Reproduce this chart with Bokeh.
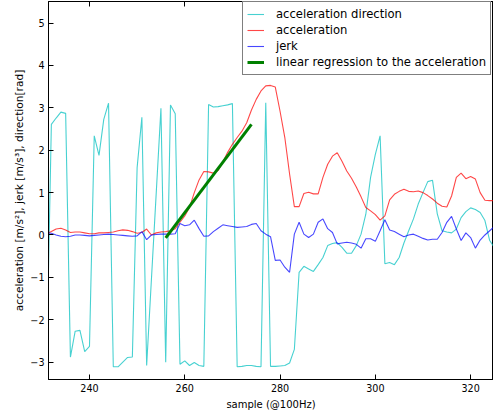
from bokeh.plotting import figure
from bokeh.models import (LinearAxis, FixedTicker, Legend, LegendItem, Range1d,
                          CustomJSTickFormatter)
from bokeh.embed import file_html
from bokeh.resources import INLINE

samples = list(range(231, 326))

direction = [
    -3.1, 2.61, 2.76, 2.9, 2.87, -2.88, -2.27, -2.25, -2.75, -2.63,
    2.34, 1.88, 2.73, 3.11, -3.11, -3.11, -3.0, -2.89, -2.88, 1.59,
    2.78, -3.08, -1.05, 0.97, 2.99, -3.0, 3.07, 2.86, -3.05, -2.97,
    -3.08, -3.01, -3.08, -3.1, 3.08, 3.02, 3.03, 3.05, 3.07, 3.1,
    -3.11, -3.1, -3.08, -3.08, -3.1, -3.11, 3.12, -3.1, -3.1, -3.09,
    -3.08, -3.02, -2.7, -0.88, -0.74, -0.8, -0.86, -0.7, -0.53, -0.25,
    -0.2, -0.18, -0.29, -0.43, -0.43, -0.25, 0.02, 0.49, 1.36, 1.9,
    2.34, -0.68, -0.65, -0.7, -0.53, -0.19, 0.1, 0.38, 0.73, 1.0,
    1.26, 1.29, 0.5, 0.1, 0.07, 0.05, 0.14, 0.41, 0.55, 0.64,
    0.6, 0.53, 0.34, -0.13, -0.3,
]

acceleration = [
    0.03, 0.08, 0.14, 0.16, 0.12, 0.06, 0.07, 0.07, 0.05, 0.03,
    0.03, 0.05, 0.05, 0.06, 0.07, 0.1, 0.12, 0.11, 0.08, 0.04,
    0.06, 0.14, 0.0, 0.05, 0.07, 0.08, 0.1, 0.15, 0.3, 0.45,
    0.65, 1.0, 1.3, 1.5, 1.49, 1.46, 1.52, 1.72, 1.95, 2.14,
    2.3, 2.45, 2.65, 2.95, 3.2, 3.4, 3.52, 3.53, 3.49, 2.92,
    2.3, 1.44, 0.67, 0.67, 0.98, 1.01, 0.97, 0.97, 1.36, 1.67,
    1.86, 1.94, 1.74, 1.51, 1.34, 1.13, 0.9, 0.65, 0.57, 0.48,
    0.35, 0.45, 0.83, 0.96, 1.03, 1.08, 1.03, 1.02, 1.04, 1.0,
    0.93, 0.85, 0.75, 0.68, 0.66, 0.92, 1.36, 1.46, 1.33, 1.38,
    1.32, 1.0, 0.82, 0.81, 0.81,
]

jerk = [
    0.05, 0.04, 0.0, -0.03, -0.04, -0.03, 0.0, 0.0, -0.01, -0.02,
    -0.01, 0.0, 0.01, 0.02, 0.01, 0.0, -0.01, -0.02, -0.03, -0.02,
    0.08, -0.11, 0.0, 0.01, 0.02, 0.02, 0.02, 0.03, 0.27, 0.22,
    0.24, 0.35, 0.15, -0.03, -0.02, 0.08, 0.16, 0.24, 0.22, 0.2,
    0.18, 0.19, 0.2, 0.25, 0.27, 0.1, 0.02, -0.04, -0.6, -0.59,
    -0.76, -0.88, 0.02, 0.3, 0.02, -0.06, 0.02, 0.3, 0.38, 0.15,
    0.06, -0.21, -0.19, -0.17, -0.19, -0.22, -0.31, -0.09, -0.09, -0.15,
    0.1, 0.36, 0.12, 0.08, 0.02, -0.04, 0.0, 0.02, -0.03, -0.08,
    -0.12, -0.1, -0.1, 0.06, 0.3, 0.44, 0.14, -0.13, 0.05, -0.06,
    -0.31, -0.12, 0.0, 0.1, 0.2,
]

reg_x = [256, 274]
reg_y = [-0.07, 2.61]

x_ticks = [240, 260, 280, 300, 320]
y_ticks = [-3, -2, -1, 0, 1, 2, 3, 4, 5]

FONT = "DejaVu Sans"

p = figure(width=493, height=414, output_backend="svg", toolbar_location=None,
           x_range=Range1d(231.4, 324.8), y_range=Range1d(-3.41, 5.51),
           min_border_left=48, min_border_right=0, min_border_top=1,
           min_border_bottom=35)
p.background_fill_color = "white"
p.border_fill_color = "white"
p.outline_line_color = "black"
p.outline_line_width = 1
p.xgrid.visible = False
p.ygrid.visible = False

for ax, ticks in ((p.xaxis[0], x_ticks), (p.yaxis[0], y_ticks)):
    ax.ticker = FixedTicker(ticks=ticks)
    ax.major_tick_in = 5
    ax.major_tick_out = 0
    ax.minor_tick_in = 0
    ax.minor_tick_out = 0
    ax.axis_line_color = "black"
    ax.major_tick_line_color = "black"
    ax.major_label_text_font = FONT
    ax.major_label_text_font_size = "9.6px"
    ax.major_label_text_color = "black"
    ax.axis_label_text_font = FONT
    ax.axis_label_text_font_size = "10px"
    ax.axis_label_text_font_style = "normal"
    ax.axis_label_text_color = "black"

p.xaxis[0].axis_label = "sample (@100Hz)"
p.xaxis[0].major_label_standoff = 4
p.xaxis[0].axis_label_standoff = 4
p.yaxis[0].axis_label = "acceleration [m/s²], jerk [m/s³], direction[rad]"
p.yaxis[0].axis_label_text_font_size = "10.6px"
p.yaxis[0].major_label_standoff = 4
p.yaxis[0].axis_label_standoff = 2

top = LinearAxis(ticker=FixedTicker(ticks=x_ticks),
                 formatter=CustomJSTickFormatter(code="return ''"),
                 major_tick_in=5, major_tick_out=0, minor_tick_in=0, minor_tick_out=0,
                 major_label_standoff=0, axis_line_color="black",
                 major_label_text_font_size="1px")
p.add_layout(top, "above")

r_dir = p.line(samples, direction, line_color="#00BFBF", line_alpha=0.72, line_width=1.1)
r_acc = p.line(samples, acceleration, line_color="#FF0000", line_alpha=0.72, line_width=1.1)
r_jerk = p.line(samples, jerk, line_color="#0000FF", line_alpha=0.72, line_width=1.1)
r_reg = p.line(reg_x, reg_y, line_color="#008000", line_width=3)

legend = Legend(items=[
    LegendItem(label="acceleration direction", renderers=[r_dir]),
    LegendItem(label="acceleration", renderers=[r_acc]),
    LegendItem(label="jerk", renderers=[r_jerk]),
    LegendItem(label="linear regression to the acceleration", renderers=[r_reg]),
], location=(194, 304))
legend.border_line_color = "black"
legend.border_line_width = 1
legend.background_fill_color = "white"
legend.background_fill_alpha = 1
legend.label_text_font = FONT
legend.label_text_font_size = "11.6px"
legend.label_text_color = "black"
legend.glyph_width = 17
legend.glyph_height = 16
legend.label_height = 16
legend.spacing = 0
legend.padding = 4
legend.margin = 0
legend.label_standoff = 12
p.add_layout(legend)

open("out.html", "w").write(file_html(p, INLINE))
